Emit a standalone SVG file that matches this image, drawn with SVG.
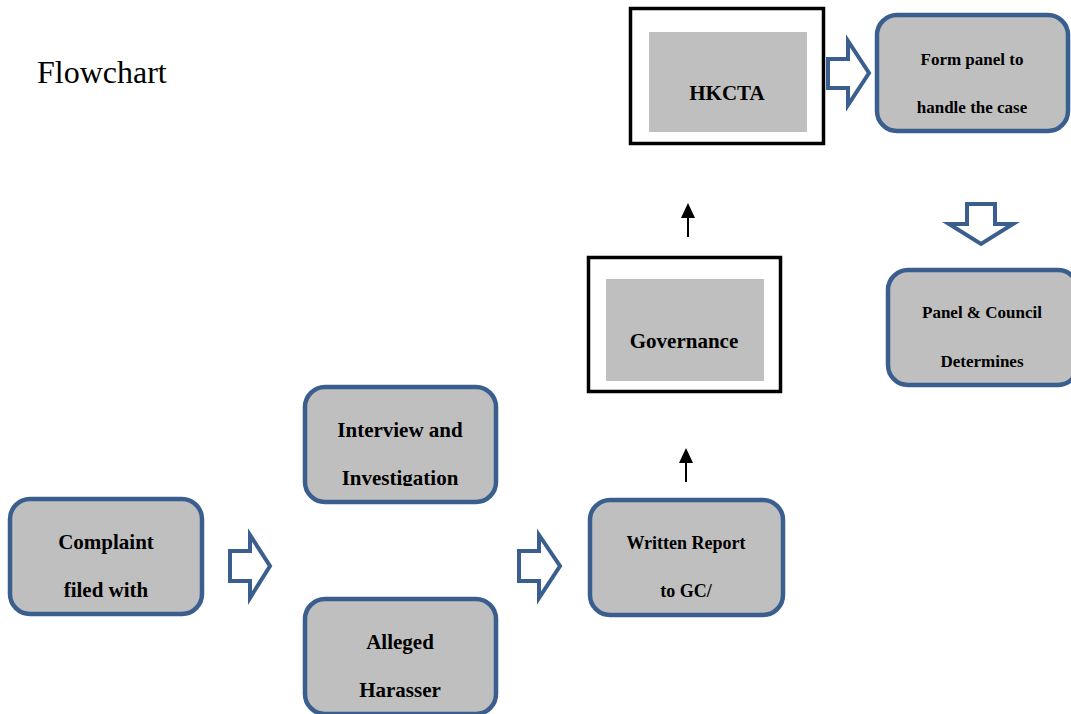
<svg xmlns="http://www.w3.org/2000/svg" width="1071" height="714" viewBox="0 0 1071 714">
<style>
.rbox{fill:#BFBFBF;stroke:#3A5F8E;stroke-width:4.5}
.frame{fill:#fff;stroke:#000;stroke-width:3.5}
.inner{fill:#BFBFBF}
.t{font-family:"Liberation Serif","Times New Roman",serif;font-weight:bold;fill:#000;text-anchor:middle}
.big{font-size:21px}
.sm{font-size:17px}
.hollow{fill:#fff;stroke:#3A5F8E;stroke-width:4;stroke-linejoin:miter}
.thin{stroke:#000;stroke-width:2}
</style>
<defs>
<clipPath id="clipInv"><rect x="300" y="380" width="200" height="106"/></clipPath>
</defs>
<rect width="1071" height="714" fill="#fff"/>
<text x="37" y="83" font-family="Liberation Serif,'Times New Roman',serif" font-size="32" fill="#000">Flowchart</text>

<g id="complaint">
<rect class="rbox" x="10" y="499" width="192" height="115" rx="20"/>
<text class="t big" x="106" y="549">Complaint</text>
<text class="t big" x="106" y="597">filed with</text>
</g>
<g id="interview">
<rect class="rbox" x="305" y="387" width="191" height="115" rx="20"/>
<text class="t big" x="400" y="437">Interview and</text>
<text class="t big" x="400" y="485" clip-path="url(#clipInv)">Investigation</text>
</g>
<g id="alleged">
<rect class="rbox" x="305" y="599" width="191" height="115" rx="20"/>
<text class="t big" x="400" y="649">Alleged</text>
<text class="t big" x="400" y="697">Harasser</text>
</g>
<g id="written">
<rect class="rbox" x="590" y="500" width="193" height="115" rx="20"/>
<text class="t" font-size="18" x="686" y="549">Written Report</text>
<text class="t" font-size="18" x="686" y="597">to GC/</text>
</g>
<g id="governance">
<rect class="frame" x="588.5" y="257.5" width="192" height="134"/>
<rect class="inner" x="606" y="279" width="158" height="102"/>
<text class="t big" x="684" y="348">Governance</text>
</g>
<g id="hkcta">
<rect class="frame" x="630.5" y="8.5" width="193" height="135"/>
<rect class="inner" x="649" y="32" width="158" height="100"/>
<text class="t big" x="727" y="100">HKCTA</text>
</g>
<g id="formpanel">
<rect class="rbox" x="877" y="15" width="191" height="116" rx="20"/>
<text class="t sm" x="972" y="65">Form panel to</text>
<text class="t sm" x="972" y="113">handle the case</text>
</g>
<g id="panelcouncil">
<rect class="rbox" x="888" y="270" width="190" height="115" rx="20"/>
<text class="t sm" x="982" y="318">Panel &amp; Council</text>
<text class="t sm" x="982" y="367">Determines</text>
</g>

<g id="connectors">
<path class="hollow" d="M230,551 H250 V535 L270,566 L250,598 V581 H230 Z"/>
<path class="hollow" d="M519,551 H539 V535 L560,566 L539,598 V581 H519 Z"/>
<path class="hollow" d="M828,59 H848 V41 L869,73 L848,105 V88 H828 Z"/>
<path class="hollow" d="M967,204 V224 H949 L981,244 L1013,224 H995 V204 Z"/>
<line class="thin" x1="686" y1="482" x2="686" y2="461"/>
<polygon points="679,463 693,463 686,448" fill="#000"/>
<line class="thin" x1="688" y1="237" x2="688" y2="216"/>
<polygon points="681,218 695,218 688,203" fill="#000"/>
</g>
</svg>
